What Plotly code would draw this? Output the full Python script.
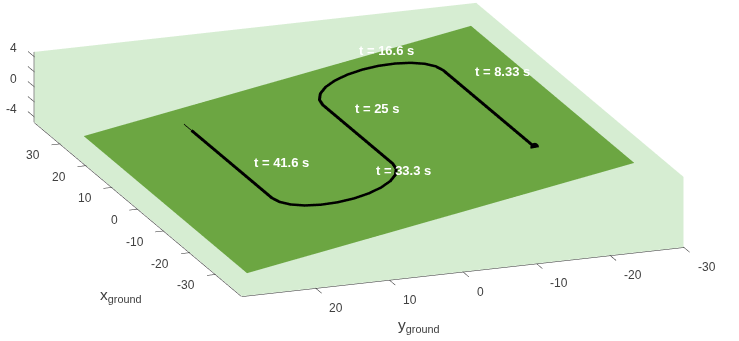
import plotly.graph_objects as go

# Axis box limits and ticks
x_lim = [-40, 40]
y_lim = [-30, 30]
z_lim = [-4.67, 4.67]
x_ticks = [-30, -20, -10, 0, 10, 20, 30]
y_ticks = [-30, -20, -10, 0, 10, 20]
z_ticks = [-4, -2, 0, 2, 4]
z_labelled = [-4, 0, 4]

# Banked ground plane (corner coordinates)
plane_x = [31.5, -31.5, -31.5, 31.5]
plane_y = [26.3, 26.3, -26.3, -26.3]
plane_z = [-4.47, -4.47, 4.47, 4.47]

# Vehicle path on the ground plane
path_x = [-16.6, 18.5, 20.62, 22.6, 24.3, 25.6, 26.42, 26.7, 26.42, 25.6, 24.3,
          22.6, 20.62, 18.5, -8.5, -10.62, -12.6, -14.3, -15.6, -16.42, -16.7,
          -16.42, -15.6, -14.3, -12.6, -10.62, -8.5, 22.6]
path_y = [-18.0, -18.0, -17.72, -16.9, -15.6, -13.9, -11.92, -9.8, -7.68, -5.7,
          -4.0, -2.7, -1.88, -1.6, -1.6, -1.32, -0.5, 0.8, 2.5, 4.48, 6.6, 8.72,
          10.7, 12.4, 13.7, 14.52, 14.8, 14.8]
path_z = [3.06, 3.06, 3.01, 2.87, 2.65, 2.36, 2.03, 1.67, 1.31, 0.97, 0.68, 0.46,
          0.32, 0.27, 0.27, 0.22, 0.09, -0.14, -0.43, -0.76, -1.12, -1.48, -1.82,
          -2.11, -2.33, -2.47, -2.52, -2.52]

# Thin reference segment at the end of the path
tail_x = [22.6, 25.5]
tail_y = [14.8, 14.8]
tail_z = [-2.52, -2.52]

# Time stamps along the path
time_text = ["t = 8.33 s", "t = 16.6 s", "t = 25 s", "t = 33.3 s", "t = 41.6 s"]
time_x = [7.9, 26.6, 7.0, -16.2, -1.8]
time_y = [-18.0, -8.8, -1.35, 4.0, 15.5]
time_z = [3.06, 1.50, 0.23, -0.68, -2.64]

LIGHT = "rgb(214,237,210)"
GROUND = "rgb(108,166,66)"
AXIS_COLOR = "#262626"
LABEL_COLOR = "#404040"
FONT = "Liberation Sans, Arial, sans-serif"
FLAT = dict(ambient=1, diffuse=0, specular=0, fresnel=0, roughness=1)
lift = 0.12          # keeps the path just above the ground plane
x_tick_len = 1.2     # x ticks point along +y
y_tick_len = 2.4     # y ticks point along -x
z_tick_len = 2.5     # z ticks point along +x

x0, x1 = x_lim
y0, y1 = y_lim
z0, z1 = z_lim

fig = go.Figure()

# Back panes of the axis box: floor, wall at x = x1, wall at y = y0
pane_x = [x1, x0, x0, x1,   x1, x1, x1, x1,   x1, x0, x0, x1]
pane_y = [y1, y1, y0, y0,   y1, y0, y0, y1,   y0, y0, y0, y0]
pane_z = [z0, z0, z0, z0,   z0, z0, z1, z1,   z0, z0, z1, z1]
fig.add_trace(go.Mesh3d(
    x=pane_x, y=pane_y, z=pane_z,
    i=[0, 0, 4, 4, 8, 8], j=[1, 2, 5, 6, 9, 10], k=[2, 3, 6, 7, 10, 11],
    color=LIGHT, flatshading=True, lighting=FLAT,
    hoverinfo="skip", showscale=False,
))

# Ground plane
fig.add_trace(go.Mesh3d(
    x=plane_x, y=plane_y, z=plane_z,
    i=[0, 0], j=[1, 2], k=[2, 3],
    color=GROUND, flatshading=True, lighting=FLAT,
    hoverinfo="skip", showscale=False,
))

# Path
fig.add_trace(go.Scatter3d(
    x=path_x, y=path_y, z=[v + lift for v in path_z],
    mode="lines", line=dict(color="black", width=6),
    hoverinfo="skip", showlegend=False,
))
fig.add_trace(go.Scatter3d(
    x=path_x[:1], y=path_y[:1], z=[path_z[0] + lift],
    mode="markers", marker=dict(color="black", size=5, line=dict(width=0)),
    hoverinfo="skip", showlegend=False,
))
fig.add_trace(go.Scatter3d(
    x=tail_x, y=tail_y, z=[v + lift for v in tail_z],
    mode="lines", line=dict(color="black", width=1.5),
    hoverinfo="skip", showlegend=False,
))

# Axis lines and tick marks
eps = 0.05
ax_x, ax_y, ax_z = [], [], []


def seg(p, q):
    ax_x.extend([p[0], q[0], None])
    ax_y.extend([p[1], q[1], None])
    ax_z.extend([p[2], q[2], None])


seg((x1, y1 + eps, z0 - eps), (x0, y1 + eps, z0 - eps))
seg((x0 - eps, y1, z0 - eps), (x0 - eps, y0, z0 - eps))
seg((x1 + eps, y1 + eps, z0), (x1 + eps, y1 + eps, z1))
for t in x_ticks:
    seg((t, y1, z0), (t, y1 + x_tick_len, z0))
for t in y_ticks:
    seg((x0, t, z0), (x0 - y_tick_len, t, z0))
for t in z_ticks:
    seg((x1, y1, t), (x1 + z_tick_len, y1, t))

fig.add_trace(go.Scatter3d(
    x=ax_x, y=ax_y, z=ax_z, mode="lines",
    line=dict(color=AXIS_COLOR, width=1),
    hoverinfo="skip", showlegend=False,
))

# Tick labels and time stamps
tick_font = dict(family=FONT, size=12, color=LABEL_COLOR)
annotations3d = []
for t in x_ticks:
    annotations3d.append(dict(x=t, y=y1, z=z0, text=str(t), showarrow=False,
                              xanchor="right", xshift=-18.5, yshift=-11,
                              font=tick_font))
for t in y_ticks:
    annotations3d.append(dict(x=x0, y=t, z=z0, text=str(t), showarrow=False,
                              xanchor="left", xshift=12, yshift=-20,
                              font=tick_font))
for t in z_labelled:
    annotations3d.append(dict(x=x1, y=y1, z=t, text=str(t), showarrow=False,
                              xanchor="right", xshift=-15, yshift=8.5,
                              font=tick_font))
for s, x, y, z in zip(time_text, time_x, time_y, time_z):
    annotations3d.append(dict(x=x, y=y, z=z, text="<b>" + s + "</b>",
                              showarrow=False, xanchor="left", xshift=2, yshift=23,
                              font=dict(family=FONT, size=13, color="white")))

# Scene ranges leave room for the outward tick marks
x_range = [-43.5, 43.5]
y_range = [-32, 32]
z_range = [-4.8, 4.8]
scale_x = 0.0507
scale_y = 0.0524
scale_z = 0.0528

hidden_axis = dict(visible=False, showspikes=False, autorange=False)

eye_dir = (-0.895, 0.3256, 0.3055)
r = 10

fig.update_layout(
    width=739, height=341,
    margin=dict(l=0, r=0, t=0, b=0),
    paper_bgcolor="white",
    showlegend=False,
    scene=dict(
        domain=dict(x=[0, 0.9716], y=[0.1232, 1]),
        xaxis=dict(range=x_range, **hidden_axis),
        yaxis=dict(range=y_range, **hidden_axis),
        zaxis=dict(range=z_range, **hidden_axis),
        aspectmode="manual",
        aspectratio=dict(
            x=(x_range[1] - x_range[0]) * scale_x,
            y=(y_range[1] - y_range[0]) * scale_y,
            z=(z_range[1] - z_range[0]) * scale_z,
        ),
        camera=dict(
            eye=dict(x=eye_dir[0] * r, y=eye_dir[1] * r, z=eye_dir[2] * r),
            up=dict(x=0, y=0, z=1),
            center=dict(x=0, y=0, z=0),
            projection=dict(type="orthographic"),
        ),
        annotations=annotations3d,
    ),
    annotations=[
        dict(x=121 / 739, y=1 - 295 / 341, xref="paper", yref="paper",
             xanchor="center", yanchor="middle",
             text="x<sub>ground</sub>", showarrow=False,
             font=dict(family=FONT, size=15.5, color=LABEL_COLOR)),
        dict(x=418.5 / 739, y=1 - 325 / 341, xref="paper", yref="paper",
             xanchor="center", yanchor="middle",
             text="y<sub>ground</sub>", showarrow=False,
             font=dict(family=FONT, size=15.5, color=LABEL_COLOR)),
    ],
)

fig.write_html("out.html")
